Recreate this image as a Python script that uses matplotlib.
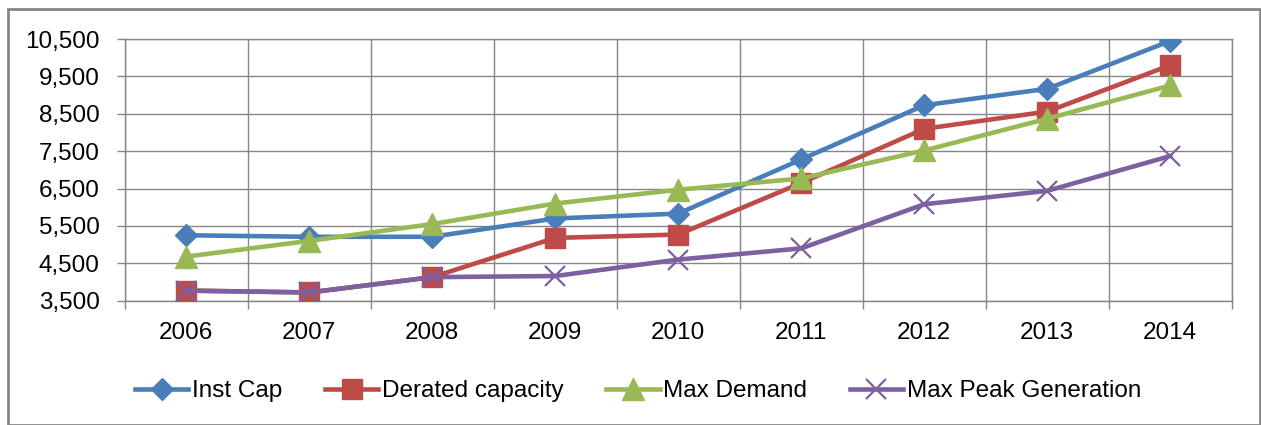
import numpy as np
import matplotlib
matplotlib.use("Agg")
import matplotlib.pyplot as plt
from matplotlib.patches import Rectangle
from matplotlib.ticker import FuncFormatter

years = ["2006", "2007", "2008", "2009", "2010", "2011", "2012", "2013", "2014"]
inst_cap = [5250, 5210, 5210, 5700, 5830, 7280, 8730, 9170, 10450]
derated = [3770, 3720, 4130, 5180, 5270, 6650, 8100, 8560, 9800]
max_demand = [4680, 5100, 5550, 6100, 6470, 6770, 7520, 8370, 9260]
max_peak = [3770, 3720, 4130, 4160, 4600, 4900, 6080, 6440, 7370]

plt.rcParams['font.family'] = ['Liberation Sans', 'DejaVu Sans']

fig = plt.figure(figsize=(12.61, 4.25), dpi=100)
ax = fig.add_axes([0.0989, 0.2925, 0.8779, 0.6155])

x = np.arange(len(years))
lw = 3.3
ax.plot(x, inst_cap, color='#4A7EBB', lw=lw, marker='D', ms=11.5, label='Inst Cap', zorder=3)
ax.plot(x, derated, color='#BE4B48', lw=lw, marker='s', ms=14.5, label='Derated capacity', zorder=3)
ax.plot(x, max_demand, color='#98B954', lw=lw, marker='^', ms=16.5, label='Max Demand', zorder=3)
ax.plot(x, max_peak, color='#7D60A0', lw=lw, marker='x', ms=15, mew=1.6,
        label='Max Peak Generation', zorder=3)

ax.set_xlim(-0.5, len(years) - 0.5)
ax.set_ylim(3500, 10500)
ax.set_yticks(np.arange(3500, 10501, 1000))
ax.yaxis.set_major_formatter(FuncFormatter(lambda v, p: f"{int(v):,}"))

ax.set_xticks(np.arange(-0.5, len(years)), [""] * (len(years) + 1))
ax.set_xticks(x, years, minor=True)
ax.tick_params(axis='x', which='minor', length=0, pad=15, labelsize=17.5, colors='#000000')
ax.tick_params(axis='both', which='major', length=6, width=1, color='#868686',
               labelsize=17.5, direction='out')
ax.tick_params(axis='y', which='major', pad=12)

ax.grid(True, which='major', color='#868686', lw=1)
ax.set_axisbelow(True)
for s in ax.spines.values():
    s.set_color('#868686')
    s.set_linewidth(1)

fig.legend(loc='center', bbox_to_anchor=(0.506, 0.08), ncol=4, frameon=False,
           fontsize=17.5, handlelength=2.2, handletextpad=0.15, columnspacing=1.75)

fig.patches.append(Rectangle((8 / 1261, 0.0), 1252 / 1261, 1 - 9 / 425, transform=fig.transFigure,
                             fill=False, edgecolor='#868686', lw=2))

fig.savefig("out.png", dpi=100)
